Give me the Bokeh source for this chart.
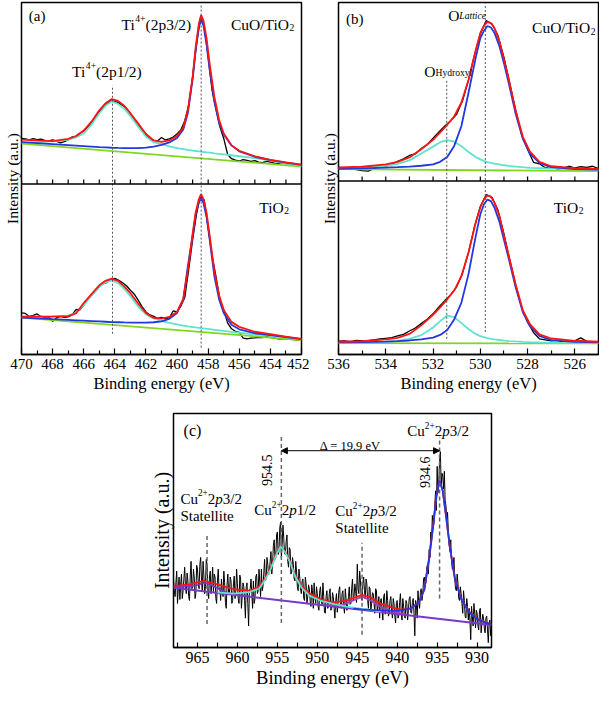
import numpy as np
from math import pi
from bokeh.plotting import figure
from bokeh.models import Range1d, FixedTicker, Label, Span, Arrow, NormalHead, Title
from bokeh.layouts import column, row
from bokeh.embed import file_html
from bokeh.resources import INLINE

SERIF = "Liberation Serif"

# ---------------- DATA ----------------
# panel (a): Ti 2p, binding energy (eV) and intensity (a.u.)
a_major = [470, 468, 466, 464, 462, 460, 458, 456, 454, 452]
a_minor = [469, 467, 465, 463, 461, 459, 457, 455, 453]
a_fit_e = [470, 469, 468, 467, 466.5, 466, 465.5, 465, 464.6, 464.2, 463.8, 463.4, 463,
           462.5, 462, 461.5, 461, 460.5, 460, 459.6, 459.3, 459, 458.8, 458.6, 458.45,
           458.3, 458.1, 457.9, 457.6, 457.3, 457, 456.5, 456, 455, 454, 453, 452]
a_bg_e = [470, 452]

# CuO/TiO2 (upper)
a1_black = [46, 45.5, 44.5, 45.8, 44.8, 45.2, 44, 43.5, 44.6, 43.2, 41.5, 42.8,
            44.5, 47.5, 46.8, 51, 53.5, 57, 62, 67.5, 73, 77.5, 81, 84,
            83.5, 82, 79.5, 76.5, 71, 66, 60.5, 55, 50.5, 46, 44, 43.5,
            47, 44.5, 45.5, 47.5, 50.5, 55, 64, 80, 108, 142, 168, 160,
            128, 95, 76, 58, 46, 30, 25.5, 24, 23.2, 24.5, 23.8, 22.8,
            23.5, 22, 21.5, 22.8, 22.2, 21, 20.8, 21.5, 20.5, 20.3, 19.8, 19.5, 19.2]
a1_cyan = [42.0, 42.3, 43.0, 44.5, 47, 51, 60, 71.5, 79, 83.5, 81, 76, 68.5,
           58, 48, 42, 40.5, 38, 36.3, 35.2, 34.4, 33.7, 33.3, 32.9, 32.6,
           32.3, 32.0, 31.6, 31.0, 30.5, 30.0, 29.0, 28.0, 26, 23.5, 20.8, 18.0]
a1_blue = [42.2, 41.3, 40.3, 39.3, 38.8, 38.3, 37.8, 37.2, 36.9, 36.6, 36.4, 36.3, 36.2,
           36.3, 36.8, 37.8, 39.5, 42, 46.5, 55, 72, 106, 135, 158, 166.5,
           160, 141, 115, 83, 62, 50, 39, 33, 27.5, 24, 21.5, 19.3]
a1_red = [44.8, 44.0, 43.3, 45.5, 48.5, 54, 63, 74.5, 81.5, 85.8, 84, 79, 71.5,
          61, 50.5, 44, 42.5, 44, 48.5, 57, 75, 108, 139, 162, 170.8,
          165, 147, 121, 88, 65, 51, 39, 33.5, 28, 24.3, 21.8, 19.5]
a1_green = [40.8, 17.6]

# TiO2 (lower)
a2_black = [42, 41.5, 38.5, 39.5, 41, 38.5, 37.5, 38, 33.5, 37, 38.5, 37.5,
            38, 40, 45.5, 45, 50, 55.5, 60, 64, 68.5, 71.5, 73, 76,
            77, 75, 72.5, 69.5, 65, 61, 55, 48.5, 43, 40, 38.5, 36.5,
            37.5, 36, 37, 44, 43, 49, 58, 86, 116, 142, 160.7, 156,
            128, 100, 79, 56, 45, 32, 26, 23.5, 22.3, 16.5, 15.7, 16.5,
            16.8, 17.3, 17, 18, 17.3, 16.5, 15.8, 16.2, 15.7, 15.2, 15, 14.8, 14.7]
a2_cyan = [38.3, 38.4, 38.6, 39.3, 42, 50, 59.5, 68.5, 73, 75, 72.5, 66.5, 59,
           48.5, 40.5, 36.5, 34, 32, 30.5, 29.3, 28.5, 27.8, 27.4, 27.0, 26.7,
           26.4, 26.0, 25.6, 25.0, 24.4, 23.8, 22.8, 22.0, 20.5, 19.0, 17.3, 15.8]
a2_blue = [37.3, 36.5, 35.7, 35.0, 34.6, 34.2, 33.8, 33.4, 33.1, 32.8, 32.6, 32.4, 32.3,
           32.2, 32.3, 32.6, 33.5, 36, 42, 56, 90, 120, 142, 154, 158.3,
           153, 139, 116, 79, 56, 42, 30, 25.5, 21.5, 19.7, 17.5, 15.5]
a2_red = [38.3, 38.3, 38.3, 38.8, 41.5, 52, 61, 70, 74.5, 76.7, 74.5, 69, 62,
          51.5, 42, 37, 36.3, 38, 43, 56, 86, 122, 144, 157, 162.3,
          157, 143, 120, 84, 60, 45, 33, 28, 23, 20.5, 18, 15.7]
a2_green = [37.3, 14.6]
a_peaks = [464.15, 458.45]

# panel (b): O 1s
b_major = [536, 534, 532, 530, 528, 526]
b_minor = [535, 533, 531, 529, 527, 525]
b_fit_e = [536, 535, 534, 533.5, 533, 532.5, 532, 531.7, 531.4, 531.1, 530.8, 530.5, 530.2,
           530, 529.85, 529.7, 529.55, 529.4, 529.2, 529, 528.8, 528.5, 528.2, 527.9,
           527.5, 527, 526, 525]
b_bg_e = [536, 525]

b1_black = [14, 12.5, 13, 11.5, 10.5, 10, 12.5, 14.5, 15.2, 17, 20, 22.5, 26, 27.5, 33,
            37, 43.5, 50, 56, 61.5, 68, 82, 103, 128, 150, 163.5, 160, 148, 126, 99,
            72, 47, 32, 19, 17.5, 13.5, 14.8, 12.2, 13, 15, 13.2, 14.5, 13.8, 15, 12.5]
b1_cyan = [13, 13.5, 15.5, 17.5, 21, 28, 35, 39.5, 41.7, 40, 35.5, 29.5, 24.5, 22,
           20.5, 19.3, 18.4, 17.6, 16.8, 16, 15.4, 14.7, 14, 13.4, 13, 12.5, 12, 11.7]
b1_blue = [12.3, 12.8, 13.5, 14, 14.6, 15.5, 17, 19.5, 24.5, 36, 56, 90, 125, 145.7,
           153, 158, 156.5, 151, 138, 120, 100, 68, 43, 28, 18.5, 14, 12.2, 11.7]
b1_red = [13.7, 14.5, 17, 19.5, 24, 32.3, 42, 49.5, 57.3, 66, 80, 103, 133, 151,
          158, 162.3, 161, 156, 143, 124, 104, 71, 45, 30, 19.5, 15, 13, 12.3]
b1_green = [12, 10]

b2_black = [13.5, 14, 13, 14.5, 13.8, 14.2, 15, 15.8, 16.5, 17.2, 19, 20.5, 24, 27, 31.5,
            36, 41.5, 48.5, 55, 61, 69, 83, 104, 130, 151, 163, 160, 147, 123, 96,
            71, 48, 33, 22.5, 16, 15, 13.8, 14.5, 13, 12.8, 14, 17, 13.5, 12, 12.5]
b2_cyan = [12, 12.3, 13, 14, 16, 19.7, 27.5, 34, 39.7, 38, 32, 26, 21, 18.8,
           17.6, 16.7, 16, 15.4, 14.8, 14.2, 13.8, 13.3, 12.9, 12.6, 12.3, 12, 11.8, 11.7]
b2_blue = [12.3, 12.6, 13.2, 13.6, 14.3, 15.5, 17.3, 20, 25, 36, 53, 82, 120, 143,
           153, 158, 156.5, 149.7, 136, 117, 98, 68, 43, 29, 19, 14.7, 12.8, 12.3]
b2_red = [13, 13.5, 15.5, 17, 21, 29.7, 40.5, 48, 56.3, 65.5, 80, 104, 134, 150,
          158, 162.3, 161, 154.7, 142, 121, 101, 71, 45, 31, 20.5, 16.3, 14, 13]
b2_green = [11.5, 11.3]
b_peaks = [531.42, 529.79]

# panel (c): Cu 2p  (measured counts, 0.1 eV steps from 968.0 to 928.2)
c_major = [965, 960, 955, 950, 945, 940, 935, 930]
c_minor = [967.5, 962.5, 957.5, 952.5, 947.5, 942.5, 937.5, 932.5]
c_black = [
    70, 58, 52, 66, 78, 45, 60, 72, 49, 64,
    75, 50, 58, 70, 82, 62, 55, 76, 68, 52,
    48, 74, 88, 60, 62, 80, 71, 50, 55, 84,
    80, 66, 60, 85, 92, 70, 58, 88, 74, 55,
    62, 90, 85, 58, 50, 72, 78, 55, 66, 82,
    57, 75, 72, 50, 45, 68, 80, 60, 61, 48,
    70, 58, 52, 78, 66, 46, 40, 64, 75, 55,
    55, 72, 68, 45, 48, 65, 73, 50, 58, 80,
    65, 50, 45, 74, 70, 40, 52, 66, 62, 48,
    30, 62, 66, 45, 22, 58, 60, 70, 55, 40,
    68, 45, 50, 72, 75, 55, 58, 80, 66, 52,
    80, 58, 62, 76, 90, 68, 70, 92, 85, 74,
    78, 88, 98, 75, 85, 104, 110, 90, 92, 115,
    118, 95, 98, 122, 128, 92, 105, 125, 112, 96,
    95, 108, 115, 88, 82, 102, 100, 75, 78, 92,
    85, 70, 68, 88, 78, 62, 58, 80, 72, 60,
    55, 68, 70, 50, 48, 72, 65, 45, 52, 64,
    60, 48, 42, 64, 58, 40, 66, 52, 45, 62,
    55, 42, 38, 58, 62, 48, 44, 66, 52, 36,
    35, 52, 58, 40, 42, 55, 60, 38, 40, 56,
    52, 40, 30, 48, 55, 36, 45, 58, 62, 42,
    40, 55, 58, 42, 35, 60, 50, 38, 44, 52,
    62, 44, 45, 60, 70, 48, 52, 65, 58, 46,
    85, 60, 55, 78, 68, 50, 48, 66, 72, 58,
    50, 70, 65, 48, 40, 62, 60, 38, 45, 56,
    55, 45, 35, 60, 58, 38, 42, 52, 30, 48,
    50, 38, 28, 52, 55, 34, 40, 58, 48, 32,
    35, 48, 52, 38, 30, 50, 45, 32, 25, 46,
    48, 30, 33, 46, 55, 36, 28, 50, 42, 32,
    30, 48, 45, 28, 38, 50, 52, 36, 35, 46,
    50, 35, 12, 48, 44, 30, 58, 45, 40, 56,
    60, 48, 55, 70, 72, 62, 68, 82, 85, 75,
    100, 92, 118, 110, 135, 122, 128, 145, 160, 140,
    185, 158, 168, 190, 200, 165, 178, 175, 162, 180,
    150, 145, 130, 138, 118, 105, 98, 110, 88, 80,
    82, 92, 70, 60, 58, 75, 66, 50, 48, 62,
    55, 45, 35, 58, 48, 32, 30, 50, 42, 28,
    40, 28, 8, 42, 32, 22, 45, 35, 20, 38,
    35, 22, 18, 38, 40, 15, 25, 34, 30, 20,
    15, 30, 32, 18, 5, 25, 28, 12, 20]
c_red_e = [968, 966, 964.2, 962.5, 960.5, 958.5, 957.3, 956.5, 955.8, 955.2, 954.6, 954,
           953.4, 952.8, 952, 951, 949.5, 948, 946.5, 945.5, 944.4, 943.3, 942, 940.5,
           939.5, 938.3, 937.3, 936.6, 936, 935.5, 935.1, 934.7, 934.3, 933.9, 933.4,
           932.8, 932, 931, 930, 929, 928.2]
c_red = [62.7, 64.5, 68, 64.5, 59.5, 58, 62, 71, 82, 95, 103, 98, 88, 74, 63,
         55.5, 49, 46, 47.5, 50.5, 53.7, 51, 44.5, 40.5, 38.7, 40, 46, 60, 92, 125,
         155, 170.3, 160, 135, 102, 72, 50, 36.5, 29.5, 26, 23.7]
c_blue_e = [945.5, 944.4, 943.3, 942, 940.5, 939.5, 938.3, 937.3, 936.6, 936, 935.5,
            935.1, 934.7, 934.3, 933.9, 933.4, 932.8, 932, 931, 930, 929, 928.2]
c_blue = [39.8, 39, 38.5, 38, 37.5, 38, 40, 46, 59, 91, 124, 154, 170.3, 160, 135,
          102, 71, 49.5, 36, 29, 25.5, 23.7]
c_cyan_e = [962.5, 960.5, 958.5, 957.3, 956.5, 955.8, 955.2, 954.6, 954, 953.4, 952.8,
            952, 951, 949.5, 948, 946.5, 945.5, 944.4, 943.3, 942]
c_cyan = [56.3, 55, 56.5, 60, 69.5, 80.5, 93.5, 103, 97, 87, 73, 61.5, 53, 47.5,
          44.5, 42, 40.8, 39.5, 38.3, 36.7]
c_sat1_e = [968, 966, 965, 964.2, 963.3, 962.5, 961.5, 960.5, 958.5]
c_sat1 = [61.6, 62.5, 64, 66, 64, 60.5, 56.5, 54.5, 52.3]
c_sat2_e = [949, 947.5, 946.5, 945.5, 944.4, 943.3, 942, 940.5, 939]
c_sat2 = [43.5, 43, 44.5, 48, 52, 48, 41, 36.5, 34]
c_bg_e = [968, 928.2]
c_bg = [61, 23]
c_peaks = [963.8, 954.5, 944.4, 934.7]

# energy grids of the measured spectra
a_black_e = np.round(np.arange(470.0, 451.9, -0.25), 2)
b_black_e = np.round(np.arange(536.0, 524.9, -0.25), 2)
c_black_e = np.round(np.arange(968.0, 928.15, -0.1), 1)

# ---------------- STYLE ----------------
RED = "#ff1414"
BLUE = "#2238e0"
CYAN = "#5fe3cf"
GREEN = "#7fd81e"
PURPLE = "#7a38c8"

TW = {' ': 250, '(': 333, ')': 333, '/': 278, '.': 250, '+': 564, '=': 564,
      'C': 667, 'H': 722, 'L': 611, 'O': 722, 'S': 556, 'T': 611,
      'a': 444, 'c': 444, 'd': 500, 'e': 444, 'i': 278, 'l': 278, 'n': 500, 'o': 500,
      'p': 500, 'r': 333, 's': 389, 't': 278, 'u': 500, 'x': 500, 'y': 500}


def tw(t, size):
    return sum(TW.get(ch, 500) for ch in t) / 1000.0 * size


def rich(p, x, y, segs, fs, align="left"):
    pieces = []
    for t, k in segs:
        size = fs * (0.62 if k in ("sup", "sub", "small", "ismall") else 1.0)
        dy = {"sup": 0.38 * fs, "sub": -0.2 * fs, "small": -0.1 * fs, "ismall": 0.0}.get(k, 0.0)
        style = "italic" if k in ("i", "ismall") else "normal"
        pieces.append((t, size, dy, style))
    total = sum(tw(t, s) for t, s, _, _ in pieces)
    off = -total / 2 if align == "center" else 0.0
    for t, s, dy, st in pieces:
        p.add_layout(Label(x=x, y=y, x_offset=off, y_offset=dy, text=t, text_font=SERIF,
                           text_font_size=f"{s:.1f}px", text_font_style=st,
                           text_align="left", text_baseline="alphabetic", text_color="black"))
        off += tw(t, s)


def plain(p, x, y, text, fs, align="center", baseline="alphabetic", angle=0.0):
    p.add_layout(Label(x=x, y=y, text=text, text_font=SERIF,
                       text_font_size=f"{fs}px", text_align=align, text_baseline=baseline,
                       angle=angle, text_color="black"))


def ytitle(p, fs, offset):
    p.add_layout(Title(text="Intensity (a.u.)", align="center", offset=offset, standoff=2,
                       text_font=SERIF, text_font_size=f"{fs}px", text_font_style="normal",
                       text_color="black"), "left")


def base_fig(width, height, xr, yr, bl, br, bt, bb, major, minor, tick_fs, lab_fs, tin, tmin):
    p = figure(width=width, height=height, x_range=Range1d(*xr), y_range=Range1d(*yr),
               y_axis_location=None, toolbar_location=None, output_backend="svg",
               min_border_left=bl, min_border_right=br, min_border_top=bt, min_border_bottom=bb)
    p.xgrid.visible = False
    p.ygrid.visible = False
    p.outline_line_color = "black"
    p.outline_line_width = 1.5
    p.outline_line_alpha = 1.0
    ax = p.xaxis[0]
    ax.ticker = FixedTicker(ticks=major, minor_ticks=minor)
    ax.major_tick_in = tin
    ax.major_tick_out = 0
    ax.minor_tick_in = tmin
    ax.minor_tick_out = 0
    ax.major_tick_line_width = 1.2
    ax.minor_tick_line_width = 1.2
    ax.axis_line_width = 1.5
    ax.major_label_standoff = 4
    ax.major_label_text_font = SERIF
    ax.major_label_text_font_size = f"{tick_fs}px"
    ax.major_label_text_color = "black"
    ax.axis_label = "Binding energy (eV)"
    ax.axis_label_text_font = SERIF
    ax.axis_label_text_font_size = f"{lab_fs}px"
    ax.axis_label_text_font_style = "normal"
    ax.axis_label_text_color = "black"
    ax.axis_label_standoff = 2
    return p


def divider(p, off, ticks, tick_len):
    p.add_layout(Span(location=off, dimension="width", line_color="black", line_width=1.5))
    p.segment(x0=ticks, y0=[off] * len(ticks), x1=ticks, y1=[off + tick_len] * len(ticks),
              line_color="black", line_width=1.2)


def spectrum(p, off, be, black, fe, cyan, blue, red, bge, green):
    p.line(list(be), [v + off for v in black], line_color="black", line_width=1.3)
    p.line(bge, [v + off for v in green], line_color=GREEN, line_width=1.8)
    p.line(fe, [v + off for v in cyan], line_color=CYAN, line_width=1.8)
    p.line(fe, [v + off for v in blue], line_color=BLUE, line_width=1.8)
    p.line(fe, [v + off for v in red], line_color=RED, line_width=1.8)


# ---------------- PANEL (a) ----------------
A_OFF = 172.5
pa = base_fig(309, 395, (470, 452), (0, 356), 20, 8, 2, 40, a_major, a_minor, 15, 16.5, 6, 4)
ytitle(pa, 15.5, 8)
divider(pa, A_OFF, sorted(a_major + a_minor), 4.5)
spectrum(pa, 0, a_black_e, a2_black, a_fit_e, a2_cyan, a2_blue, a2_red, a_bg_e, a2_green)
spectrum(pa, A_OFF, a_black_e, a1_black, a_fit_e, a1_cyan, a1_blue, a1_red, a_bg_e, a1_green)
pa.segment(x0=[a_peaks[0]], y0=[21], x1=[a_peaks[0]], y1=[272], line_color="#555555",
           line_width=1, line_dash="2 2")
pa.segment(x0=[a_peaks[1]], y0=[7], x1=[a_peaks[1]], y1=[354], line_color="#505070",
           line_width=1, line_dash="2 2")
plain(pa, 469.0, 342.5, "(a)", 15, baseline="middle")
rich(pa, 461.33, 334, [("Ti", "n"), ("4+", "sup"), ("(2p3/2)", "n")], 15.5, "center")
rich(pa, 456.54, 333.7, [("CuO/TiO", "n"), ("2", "sub")], 15.5)
rich(pa, 464.51, 286.3, [("Ti", "n"), ("4+", "sup"), ("(2p1/2)", "n")], 15.5, "center")
rich(pa, 454.71, 148.3, [("TiO", "n"), ("2", "sub")], 15.5)

# ---------------- PANEL (b) ----------------
B_OFF = 177
pb = base_fig(290, 395, (536, 525), (0, 359), 29, 1, 2, 40, b_major, b_minor, 15, 16.5, 6, 4)
ytitle(pb, 15.5, 6)
divider(pb, B_OFF, sorted(b_major + b_minor), 4.5)
spectrum(pb, 0, b_black_e, b2_black, b_fit_e, b2_cyan, b2_blue, b2_red, b_bg_e, b2_green)
spectrum(pb, B_OFF, b_black_e, b1_black, b_fit_e, b1_cyan, b1_blue, b1_red, b_bg_e, b1_green)
pb.segment(x0=[b_peaks[0]], y0=[16], x1=[b_peaks[0]], y1=[280], line_color="#555555",
           line_width=1, line_dash="2 2")
pb.segment(x0=[b_peaks[1]], y0=[23], x1=[b_peaks[1]], y1=[358], line_color="#505070",
           line_width=1, line_dash="2 2")
plain(pb, 535.31, 342, "(b)", 15, baseline="middle")
rich(pb, 531.36, 346, [("O", "n"), ("Lattice", "ismall")], 15.5)
rich(pb, 532.37, 289, [("O", "n"), ("Hydroxyl", "small")], 15.5)
rich(pb, 527.81, 333, [("CuO/TiO", "n"), ("2", "sub")], 15.5)
rich(pb, 526.89, 150, [("TiO", "n"), ("2", "sub")], 15.5)

# ---------------- PANEL (c) ----------------
pc = base_fig(599, 297, (968, 928.2), (0, 239), 173, 108, 18, 45, c_major, c_minor, 16, 18.5, 5, 5)
ytitle(pc, 20, 0)
pc.line(list(c_black_e), c_black, line_color="black", line_width=1.0)
pc.line(c_bg_e, c_bg, line_color=PURPLE, line_width=2)
pc.line(c_sat1_e, c_sat1, line_color=PURPLE, line_width=1.8)
pc.line(c_sat2_e, c_sat2, line_color="#a040c0", line_width=1.8)
pc.line(c_red_e, c_red, line_color=RED, line_width=1.8)
pc.line(c_cyan_e, c_cyan, line_color=CYAN, line_width=1.8)
pc.line(c_blue_e, c_blue, line_color=BLUE, line_width=1.8)
pc.segment(x0=c_peaks, y0=[24, 25, 13, 50], x1=c_peaks, y1=[117, 216, 107, 215],
           line_color="#666666", line_width=1.5, line_dash="4 3")
pc.add_layout(Arrow(start=NormalHead(size=6, fill_color="black", line_color="black"),
                    end=NormalHead(size=6, fill_color="black", line_color="black"),
                    x_start=c_peaks[1], y_start=201, x_end=c_peaks[3], y_end=201,
                    line_color="black", line_width=1))
plain(pc, 945.88, 206, "\u0394 = 19.9 eV", 12.5)
plain(pc, 965.63, 222, "(c)", 16, baseline="middle")
cu32 = [("Cu", "n"), ("2+", "sup"), ("2", "n"), ("p", "i"), ("3/2", "n")]
cu12 = [("Cu", "n"), ("2+", "sup"), ("2", "n"), ("p", "i"), ("1/2", "n")]
rich(pc, 934.88, 221, cu32, 15, "center")
plain(pc, 956.25, 181, "954.5", 14, baseline="middle", angle=pi / 2)
plain(pc, 936.56, 179, "934.6", 14, baseline="middle", angle=pi / 2)
rich(pc, 967.13, 152, cu32, 15)
plain(pc, 967.13, 134, "Statellite", 15, align="left")
rich(pc, 957.88, 140, cu12, 15)
rich(pc, 947.75, 139, cu32, 15)
plain(pc, 947.75, 122, "Statellite", 15, align="left")

layout = column(row(pa, pb), pc)
open("out.html", "w").write(file_html(layout, INLINE))
